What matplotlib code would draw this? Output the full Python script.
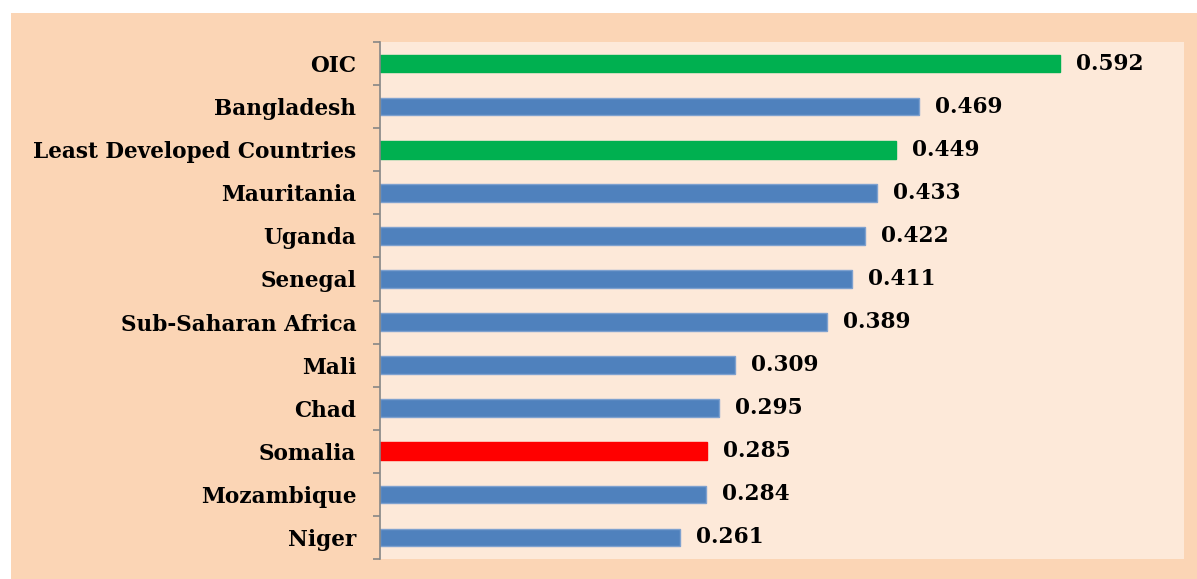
import matplotlib.pyplot as plt
from matplotlib.patches import Rectangle

countries = ["OIC", "Bangladesh", "Least Developed Countries", "Mauritania",
             "Uganda", "Senegal", "Sub-Saharan Africa", "Mali", "Chad",
             "Somalia", "Mozambique", "Niger"]
values = [0.592, 0.469, 0.449, 0.433, 0.422, 0.411, 0.389, 0.309, 0.295,
          0.285, 0.284, 0.261]
colors = ["#00B050", "#4F81BD", "#00B050", "#4F81BD", "#4F81BD", "#4F81BD",
          "#4F81BD", "#4F81BD", "#4F81BD", "#FF0000", "#4F81BD", "#4F81BD"]

fig = plt.figure(figsize=(11.97, 5.79), dpi=100)
fig.patch.set_facecolor("white")

# outer chart area
fig.patches.append(Rectangle((0.0092, 0), 1.0, 0.9775, transform=fig.transFigure,
                             facecolor="#FBD5B5", edgecolor="none", zorder=-10))

ax = fig.add_axes([0.3175, 0.0345, 0.6716, 0.893])
ax.set_facecolor("#FDE9D9")

ypos = list(range(len(countries)))
edges = ["#7EA1CF" if c == "#4F81BD" else c for c in colors]
ax.barh(ypos, values, height=0.41, color=colors, edgecolor=edges, linewidth=1)

font = "DejaVu Serif"
for y, v in zip(ypos, values):
    ax.annotate(f"{v:.3f}", xy=(v, y), xytext=(11.5, 0), textcoords="offset points",
                ha="left", va="center", fontsize=15.6, fontweight="bold",
                family=font)

ax.set_xlim(0, 0.7)
ax.set_ylim(len(countries) - 0.5, -0.5)
ax.set_xticks([])
ax.set_yticks(ypos)
ax.set_yticklabels(countries, fontsize=15.6, fontweight="bold", family=font)
ax.set_yticks([i - 0.5 for i in range(len(countries) + 1)], minor=True)
ax.tick_params(axis="y", which="major", length=0, pad=17)
ax.tick_params(axis="y", which="minor", length=5, color="#868686", width=1.2)

for s in ["top", "right", "bottom"]:
    ax.spines[s].set_visible(False)
ax.spines["left"].set_color("#868686")
ax.spines["left"].set_linewidth(1.2)

fig.savefig("out.png", dpi=100)
